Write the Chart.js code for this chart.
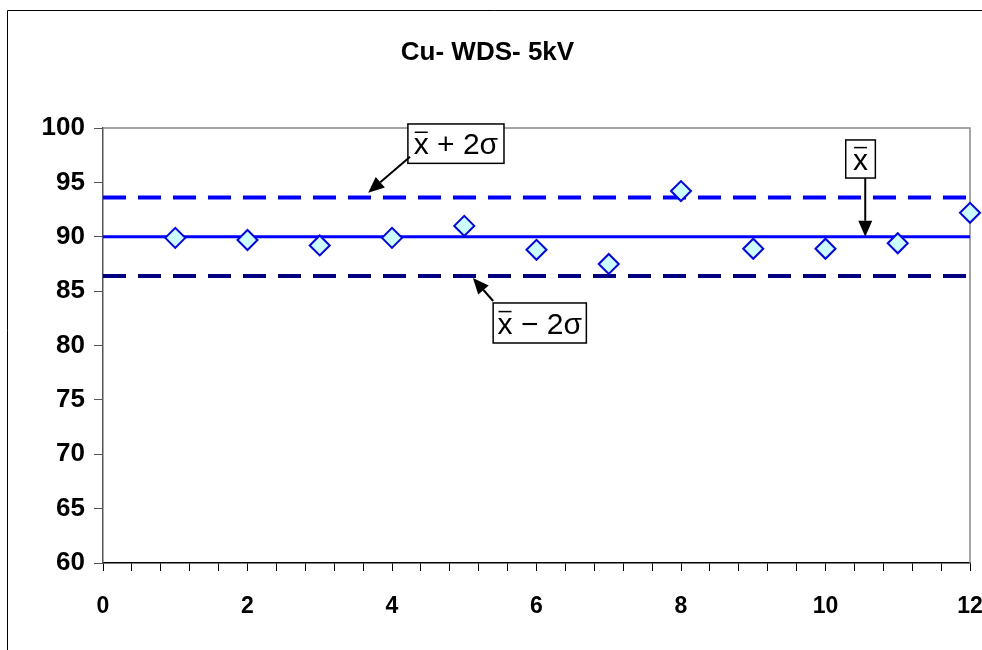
<!DOCTYPE html>
<html>
<head>
<meta charset="utf-8">
<script src="https://cdn.jsdelivr.net/npm/chart.js@4.4.0/dist/chart.umd.min.js"></script>
<style>
  html, body { margin: 0; padding: 0; background: #fff; }
  #wrap { width: 982px; height: 650px; }
</style>
</head>
<body>
<div id="wrap"><canvas id="myChart"></canvas></div>
<script>
const runs = [1, 2, 3, 4, 5, 6, 7, 8, 9, 10, 11, 12];
const values = [89.9, 89.7, 89.2, 89.9, 91.0, 88.8, 87.5, 94.2, 88.9, 88.9, 89.4, 92.2];
const mean = 90.0;
const upper = 93.6;
const lower = 86.4;
const xRange = [0, 12];
const yRange = [60, 100];
const xLabelStep = 2;

// callout boxes (data units) pointing at the control lines
const callouts = [
  { pre: 'x', post: ' + 2\u03c3', box: [4.22, 5.55, 100.37, 96.75], from: [4.25, 97.36], to: [3.67, 94.05] },
  { pre: 'x', post: ' \u2212 2\u03c3', box: [5.40, 6.69, 83.91, 80.23], from: [5.40, 84.09], to: [5.12, 86.21] },
  { pre: 'x', post: '', box: [10.28, 10.69, 98.90, 95.40], from: [10.55, 95.40], to: [10.55, mean] }
];
const calloutSize = 30;

const FONT = 'Liberation Sans, Arial, sans-serif';

const ctx = document.getElementById('myChart');

const lineSet = (label, y, color, width, dash) => ({
  label: label,
  data: [{ x: xRange[0], y: y }, { x: xRange[1], y: y }],
  showLine: true,
  borderColor: color,
  borderWidth: width,
  borderDash: dash,
  pointRadius: 0,
  fill: false,
  order: 2
});

const framePlugin = {
  id: 'frame',
  beforeDraw(chart) {
    const c = chart.ctx;
    c.save();
    c.fillStyle = '#fff';
    c.fillRect(0, 0, chart.width, chart.height);
    c.strokeStyle = '#000';
    c.lineWidth = 1;
    c.beginPath();
    c.moveTo(7.5, chart.height);
    c.lineTo(7.5, 10.5);
    c.lineTo(chart.width, 10.5);
    c.stroke();
    c.restore();
  },
  beforeDatasetsDraw(chart) {
    const a = chart.chartArea;
    const c = chart.ctx;
    c.save();
    c.strokeStyle = '#888';
    c.lineWidth = 1.5;
    c.beginPath();
    c.moveTo(a.left, a.top);
    c.lineTo(a.right, a.top);
    c.lineTo(a.right, a.bottom);
    c.stroke();
    c.restore();
  }
};

const calloutPlugin = {
  id: 'callouts',
  afterDatasetsDraw(chart) {
    const xs = chart.scales.x, ys = chart.scales.y;
    const c = chart.ctx;
    const fs = calloutSize;
    c.save();
    callouts.forEach(k => {
      const l = xs.getPixelForValue(k.box[0]), r = xs.getPixelForValue(k.box[1]);
      const t = ys.getPixelForValue(k.box[2]), b = ys.getPixelForValue(k.box[3]);
      c.fillStyle = '#fff';
      c.fillRect(l, t, r - l, b - t);
      c.strokeStyle = '#000';
      c.lineWidth = 1.5;
      c.strokeRect(l, t, r - l, b - t);
      c.font = fs + 'px ' + FONT;
      c.fillStyle = '#000';
      c.textBaseline = 'alphabetic';
      c.textAlign = 'left';
      const w1 = c.measureText(k.pre).width;
      const tw = w1 + c.measureText(k.post).width;
      const tx = (l + r) / 2 - tw / 2;
      const ty = (t + b) / 2 + 0.36 * fs;
      c.fillText(k.pre, tx, ty);
      c.fillText(k.post, tx + w1, ty);
      c.lineWidth = 1.5;
      c.beginPath();
      c.moveTo(tx + 1, ty - 0.74 * fs);
      c.lineTo(tx + w1 - 1, ty - 0.74 * fs);
      c.stroke();
      // arrow
      const x0 = xs.getPixelForValue(k.from[0]), y0 = ys.getPixelForValue(k.from[1]);
      const x1 = xs.getPixelForValue(k.to[0]), y1 = ys.getPixelForValue(k.to[1]);
      const ang = Math.atan2(y1 - y0, x1 - x0);
      const hl = 16, hw = 7;
      c.lineWidth = 2;
      c.beginPath();
      c.moveTo(x0, y0);
      c.lineTo(x1 - hl * Math.cos(ang), y1 - hl * Math.sin(ang));
      c.stroke();
      c.beginPath();
      c.moveTo(x1, y1);
      c.lineTo(x1 - hl * Math.cos(ang) + hw * Math.sin(ang), y1 - hl * Math.sin(ang) - hw * Math.cos(ang));
      c.lineTo(x1 - hl * Math.cos(ang) - hw * Math.sin(ang), y1 - hl * Math.sin(ang) + hw * Math.cos(ang));
      c.closePath();
      c.fill();
    });
    c.restore();
  }
};

new Chart(ctx, {
  type: 'scatter',
  data: {
    datasets: [
      {
        label: 'Cu',
        data: runs.map((r, i) => ({ x: r, y: values[i] })),
        pointStyle: 'rectRot',
        pointRadius: 10,
        pointHoverRadius: 10,
        pointBackgroundColor: '#ccffff',
        pointBorderColor: '#0000ff',
        pointBorderWidth: 2,
        showLine: false,
        clip: false,
        order: 1
      },
      lineSet('mean', mean, '#0000ff', 3, []),
      lineSet('upper', upper, '#0000ff', 4, [23, 12]),
      lineSet('lower', lower, '#000080', 4, [23, 12])
    ]
  },
  options: {
    responsive: true,
    maintainAspectRatio: false,
    animation: false,
    layout: { padding: { left: 0, right: 7, top: 0, bottom: 0 } },
    plugins: {
      legend: { display: false },
      tooltip: { enabled: false },
      title: {
        display: true,
        text: 'Cu- WDS- 5kV',
        color: '#000',
        font: { family: FONT, size: 26, weight: 'bold', lineHeight: 1.2 },
        padding: { top: 37, bottom: 59.8 }
      }
    },
    scales: {
      x: {
        type: 'linear',
        min: xRange[0],
        max: xRange[1],
        border: { color: '#000', width: 1.5 },
        grid: { drawOnChartArea: false, drawTicks: true, tickLength: 8, color: '#000', lineWidth: 1 },
        ticks: {
          stepSize: 0.4,
          autoSkip: false,
          maxRotation: 0,
          padding: 22,
          color: '#000',
          font: { family: FONT, size: 23, weight: 'bold' },
          callback: v => {
            const q = v / xLabelStep;
            return Math.abs(q - Math.round(q)) < 1e-6 ? String(Math.round(v)) : '';
          }
        },
        afterFit: s => { s.height = 87; s.paddingLeft = 0; s.paddingRight = 0; }
      },
      y: {
        type: 'linear',
        min: yRange[0],
        max: yRange[1],
        border: { color: '#555', width: 1.5 },
        grid: { drawOnChartArea: false, drawTicks: true, tickLength: 9, color: '#555', lineWidth: 1 },
        ticks: {
          stepSize: 5,
          padding: 9,
          color: '#000',
          font: { family: FONT, size: 26, weight: 'bold' }
        },
        afterFit: s => { s.width = 103; s.paddingTop = 0; s.paddingBottom = 0; }
      }
    }
  },
  plugins: [framePlugin, calloutPlugin]
});
</script>
</body>
</html>
